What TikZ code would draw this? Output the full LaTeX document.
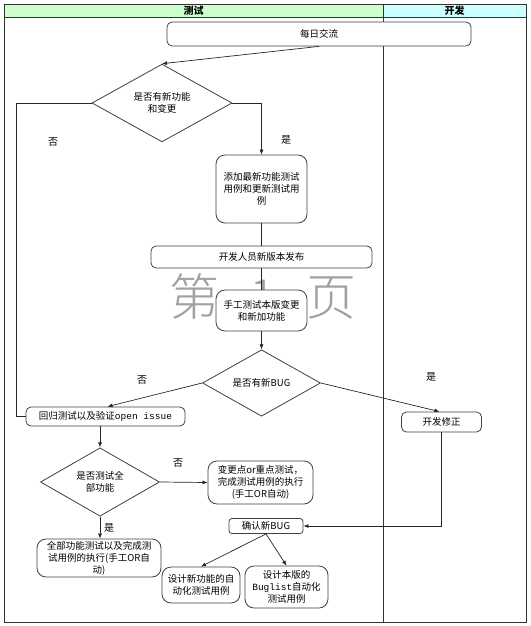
\documentclass[tikz,border=0pt]{standalone}
\usepackage{fontspec}
\setmainfont{Noto Sans CJK SC}
\setmonofont{Liberation Mono}
\IfFontExistsTF{Noto Sans CJK SC Light}{\newfontfamily\wmfont{Noto Sans CJK SC Light}}{\newfontfamily\wmfont{Noto Sans CJK SC}}
\usetikzlibrary{shapes.geometric,arrows.meta}
\definecolor{hdrgreen}{HTML}{CCFFCC}
\definecolor{hdrcyan}{HTML}{CCFFFF}
\definecolor{boxline}{HTML}{404040}
\definecolor{wmark}{HTML}{A0A0A0}
\tikzset{
  every node/.style={font=\fontsize{9.5}{12}\selectfont},
  procbox/.style={draw=boxline, line width=0.8pt, fill=white, rounded corners=5pt, inner sep=0pt, align=center},
  bigbox/.style={procbox, rounded corners=9pt},
  decide/.style={draw=boxline, line width=0.8pt, fill=white, diamond, inner sep=0pt, align=center},
  flow/.style={draw=black!85, line width=0.7pt},
  arr/.style={flow, -{Latex[length=5pt,width=4pt]}},
  lbl/.style={font=\fontsize{10}{12}\selectfont},
  hdr/.style={font=\fontsize{10}{12}\selectfont\bfseries}
}
\begin{document}
\begin{tikzpicture}[x=1pt,y=-1pt]
\useasboundingbox (0,0) rectangle (530,626);
% lanes
\fill[hdrgreen] (4,4) rectangle (383,17);
\fill[hdrcyan] (383,4) rectangle (526,17);
\draw[line width=0.8pt, black!80] (4,4) rectangle (526,622);
\draw[line width=0.8pt, black!80] (4,17) -- (526,17);
\draw[line width=0.8pt, black!80] (383,4) -- (383,622);
\node[hdr] (htest) at (193.5,10.5) {测试};
\node[hdr] (hdev) at (454.5,10.5) {开发};
% watermark
\node[text=wmark, font=\wmfont\fontsize{50}{50}\selectfont] (wm) at (263,297) {第\hspace{30pt}1\hspace{30pt}页};
% nodes
\node[procbox, minimum width=304pt, minimum height=24pt] (meiri) at (319,34) {每日交流};
\node[decide, minimum width=140pt, minimum height=63pt] (d1) at (162,103) {是否有新功能\\和变更};
\node[bigbox, minimum width=91pt, minimum height=68pt] (tianjia) at (261.5,189) {添加最新功能测试\\用例和更新测试用\\例};
\node[procbox, minimum width=221pt, minimum height=22pt] (kaifa) at (261.5,257) {开发人员新版本发布};
\node[bigbox, minimum width=91pt, minimum height=41pt] (shougong) at (261.5,310.5) {手工测试本版变更\\和新加功能};
\node[decide, minimum width=118pt, minimum height=57pt] (d2) at (261.5,383) {是否有新BUG};
\node[procbox, minimum width=159pt, minimum height=19pt] (huigui) at (105.5,416.5) {回归测试以及验证{\ttfamily open issue}};
\node[procbox, minimum width=80pt, minimum height=20pt] (xiuzheng) at (441.5,422) {开发修正};
\node[decide, minimum width=119pt, minimum height=53pt] (d3) at (100,482) {是否测试全\\部功能};
\node[bigbox, minimum width=105pt, minimum height=43pt] (biangeng) at (260.5,482.5) {变更点or重点测试，\\完成测试用例的执行\\(手工OR自动)};
\node[procbox, minimum width=74pt, minimum height=15pt, rounded corners=3pt] (queren) at (266,526) {确认新BUG};
\node[bigbox, minimum width=124pt, minimum height=38pt] (quanbu) at (99,558) {全部功能测试以及完成测\\试用例的执行(手工OR自\\动)};
\node[bigbox, minimum width=78pt, minimum height=36pt] (sheji1) at (201,585) {设计新功能的自\\动化测试用例};
\node[bigbox, minimum width=83pt, minimum height=42pt] (sheji2) at (286.5,587) {设计本版的\\{\ttfamily Buglist}自动化\\测试用例};
% labels
\node[lbl] (l1) at (53,142) {否};
\node[lbl] (l2) at (286,140) {是};
\node[lbl] (l3) at (142,380) {否};
\node[lbl] (l4) at (431,377) {是};
\node[lbl] (l5) at (178,463) {否};
\node[lbl] (l6) at (109,528) {是};
% connectors
\draw[arr] (meiri.south) -- (d1.north);
\draw[flow] (d1.west) -- ++(-75,0) |- (huigui.west);
\draw[arr] (d1.east) -| (tianjia.north);
\draw[flow] (tianjia.south) -- (kaifa.north);
\draw[flow] (kaifa.south) -- (shougong.north);
\draw[arr] (shougong.south) -- (d2.north);
\draw[arr] (d2.west) -- ([xshift=2pt]huigui.north);
\draw[arr] (d2.east) -- ([xshift=-2pt]xiuzheng.north);
\draw[arr] (xiuzheng.south) |- (queren.east);
\draw[arr] (d3.north |- huigui.south) -- (d3.north);
\draw[arr] (d3.east) -- (biangeng.west);
\draw[arr] (d3.south) -- (quanbu.north -| d3.south);
\draw[arr] (queren.south) -- (sheji1.north);
\draw[arr] (queren.south) -- (sheji2.north);
\end{tikzpicture}
\end{document}
